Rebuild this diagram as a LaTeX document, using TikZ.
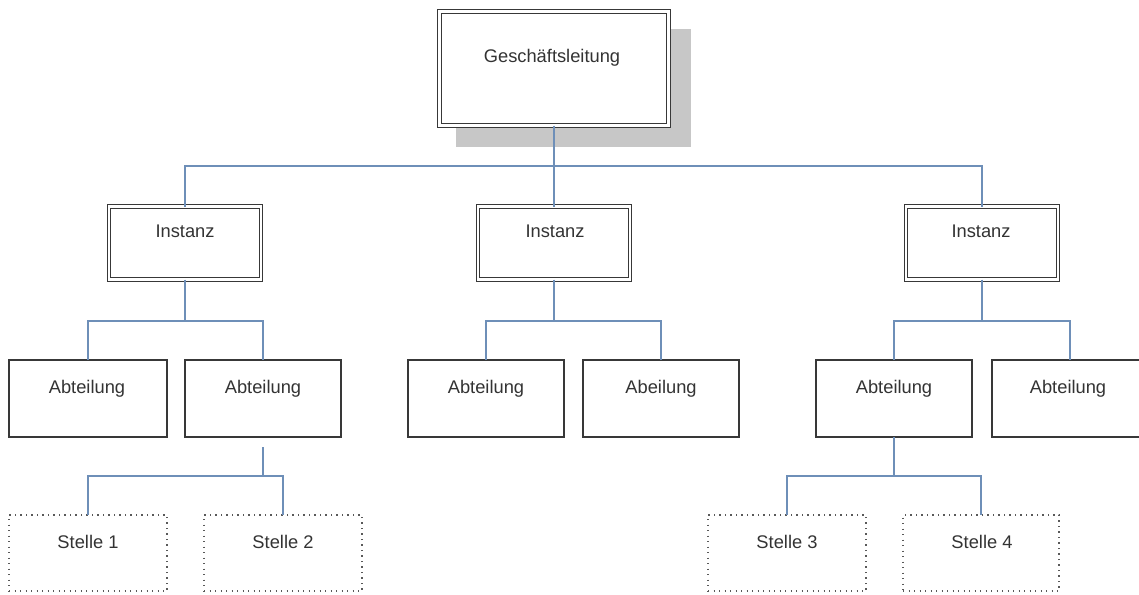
\documentclass[tikz,border=0pt]{standalone}
\usepackage{fontspec}
\setmainfont{Liberation Sans}
\begin{document}
\begin{tikzpicture}[x=1pt,y=-1pt,
  boxline/.style={draw=black!78, line width=1.3pt, fill=white, inner sep=0pt, outer sep=0pt},
  dblbox/.style={boxline, line width=1.1pt, double=white, double distance=2.2pt},
  dotbox/.style={draw=black!65, line width=1.5pt, dash pattern=on 1.3pt off 4.2pt, inner sep=0pt, outer sep=0pt},
  conn/.style={draw={rgb,255:red,110;green,143;blue,184}, line width=1.5pt},
  txt/.style={font=\fontsize{18.3}{20}\selectfont, text=black!80, anchor=base, inner sep=0pt}
]
\useasboundingbox (0,0) rectangle (1139,594);
% shadow
\fill[black!22] (456,29) rectangle (691,147);
% top
\node[dblbox, minimum width=229pt, minimum height=114pt] (g) at (554,68.5) {};
\node[txt] (gt) at (552,63) {Geschäftsleitung};
% Instanz
\node[dblbox, minimum width=152pt, minimum height=73pt] (i1) at (185,243) {};
\node[dblbox, minimum width=152pt, minimum height=73pt] (i2) at (554,243) {};
\node[dblbox, minimum width=152pt, minimum height=73pt] (i3) at (982,243) {};
\node[txt] (i1t) at (185,237) {Instanz};
\node[txt] (i2t) at (555,237) {Instanz};
\node[txt] (i3t) at (981,237) {Instanz};
% Abteilung
\node[boxline, minimum width=158pt, minimum height=77pt] (a1) at (88,398.5) {};
\node[boxline, minimum width=156pt, minimum height=77pt] (a2) at (263,398.5) {};
\node[boxline, minimum width=156pt, minimum height=77pt] (a3) at (486,398.5) {};
\node[boxline, minimum width=156pt, minimum height=77pt] (a4) at (661,398.5) {};
\node[boxline, minimum width=156pt, minimum height=77pt] (a5) at (894,398.5) {};
\node[boxline, minimum width=156pt, minimum height=77pt] (a6) at (1070,398.5) {};
\node[txt] (a1t) at (87,393) {Abteilung};
\node[txt] (a2t) at (263,393) {Abteilung};
\node[txt] (a3t) at (486,393) {Abteilung};
\node[txt] (a4t) at (661,393) {Abeilung};
\node[txt] (a5t) at (894,393) {Abteilung};
\node[txt] (a6t) at (1068,393) {Abteilung};
% Stellen
\node[dotbox, minimum width=158pt, minimum height=76pt] (s1) at (88,553) {};
\node[dotbox, minimum width=158pt, minimum height=76pt] (s2) at (283,553) {};
\node[dotbox, minimum width=158pt, minimum height=76pt] (s3) at (787,553) {};
\node[dotbox, minimum width=156pt, minimum height=76pt] (s4) at (981,553) {};
\node[txt] (s1t) at (88,548) {Stelle 1};
\node[txt] (s2t) at (283,548) {Stelle 2};
\node[txt] (s3t) at (787,548) {Stelle 3};
\node[txt] (s4t) at (982,548) {Stelle 4};
% bus levels
\coordinate (bus1) at (0,166);
\coordinate (bus2) at (0,321);
\coordinate (bus3) at (0,476);
% connectors
\draw[conn] (g.south) -- (g.south |- bus1);
\draw[conn] (i1.north) -- (i1.north |- bus1) -- (i3.north |- bus1) -- (i3.north);
\draw[conn] (i2.north) -- (i2.north |- bus1);
\draw[conn] (i1.south) -- (i1.south |- bus2);
\draw[conn] (a1.north) -- (a1.north |- bus2) -- (a2.north |- bus2) -- (a2.north);
\draw[conn] (i2.south) -- (i2.south |- bus2);
\draw[conn] (a3.north) -- (a3.north |- bus2) -- (a4.north |- bus2) -- (a4.north);
\draw[conn] (i3.south) -- (i3.south |- bus2);
\draw[conn] (a5.north) -- (a5.north |- bus2) -- (a6.north |- bus2) -- (a6.north);
\coordinate (a2b) at ([yshift=-10pt]a2.south);
\draw[conn] (a2b) -- (a2b |- bus3);
\draw[conn] (s1.north) -- (s1.north |- bus3) -- (s2.north |- bus3) -- (s2.north);
\draw[conn] (a5.south) -- (a5.south |- bus3);
\draw[conn] (s3.north) -- (s3.north |- bus3) -- (s4.north |- bus3) -- (s4.north);
\end{tikzpicture}
\end{document}
